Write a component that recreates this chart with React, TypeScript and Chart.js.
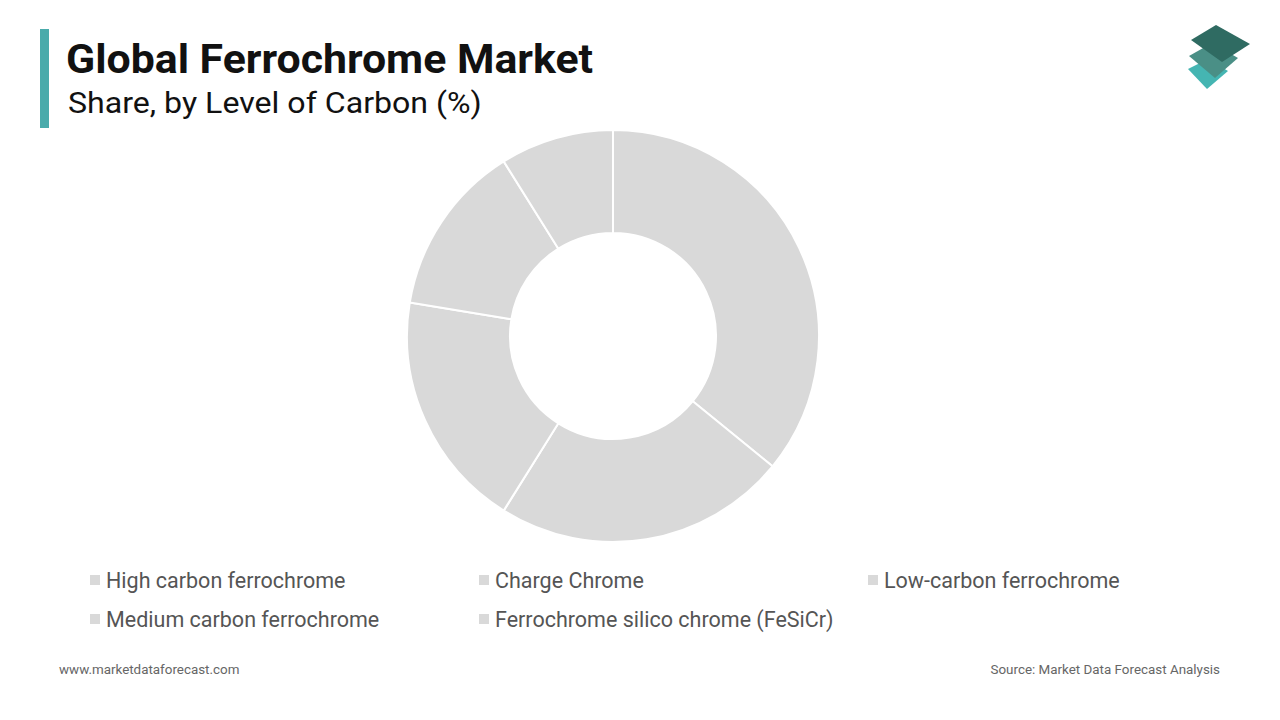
import React, { useEffect, useRef } from "react";
import { Chart, registerables } from "chart.js";

Chart.register(...registerables);

const categories = [
  "High carbon ferrochrome",
  "Charge Chrome",
  "Low-carbon ferrochrome",
  "Medium carbon ferrochrome",
  "Ferrochrome silico chrome (FeSiCr)",
];
const shares = [35.9, 23.0, 18.7, 13.5, 8.9];
const sliceColor = "#d9d9d9";

const FONT = "Roboto, 'Noto Sans', sans-serif";

export default function App() {
  const ref = useRef<HTMLCanvasElement | null>(null);

  useEffect(() => {
    if (!ref.current) return;
    const chart = new Chart(ref.current, {
      type: "doughnut",
      data: {
        labels: categories,
        datasets: [
          {
            data: shares,
            backgroundColor: categories.map(() => sliceColor),
            borderColor: "#ffffff",
            borderWidth: 2,
            hoverOffset: 0,
          },
        ],
      },
      options: {
        responsive: false,
        animation: false,
        maintainAspectRatio: false,
        cutout: "50%",
        radius: 206,
        layout: { padding: 0 },
        plugins: {
          legend: { display: false },
          tooltip: { enabled: false },
        },
      },
    });
    return () => chart.destroy();
  }, []);

  const rows = [categories.slice(0, 3), categories.slice(3)];

  return (
    <div
      style={{
        position: "absolute",
        left: 0,
        top: 0,
        width: 1280,
        height: 720,
        background: "#ffffff",
        fontFamily: FONT,
        overflow: "hidden",
      }}
    >
      <div style={{ position: "absolute", left: 40, top: 29, width: 9, height: 99, background: "#4aabab" }} />
      <div
        style={{
          position: "absolute",
          left: 66,
          top: 36,
          fontSize: 40,
          fontWeight: 700,
          color: "#111",
          lineHeight: "48px",
          whiteSpace: "nowrap",
          transform: "scaleX(1.07)",
          transformOrigin: "left center",
        }}
      >
        Global Ferrochrome Market
      </div>
      <div
        style={{
          position: "absolute",
          left: 68,
          top: 85,
          fontSize: 29,
          color: "#111",
          lineHeight: "36px",
          whiteSpace: "nowrap",
          transform: "scaleX(1.107)",
          transformOrigin: "left center",
        }}
      >
        Share, by Level of Carbon (%)
      </div>

      <svg style={{ position: "absolute", left: 1180, top: 18 }} width={80} height={80} viewBox="0 0 80 80">
        <polygon points="8,51 28,41 48,53 27,71" fill="#45b5b2" />
        <polygon points="9,38 32,25 58,40 35,60" fill="#4a8f86" />
        <polygon points="11,22 36,7 70,26 42,44" fill="#2f6b62" />
      </svg>

      <canvas
        ref={ref}
        width={420}
        height={420}
        style={{ position: "absolute", left: 403, top: 126, width: 420, height: 420 }}
      />

      {rows.map((row, ri) => (
        <div key={ri}>
          {row.map((label, ci) => (
            <div
              key={label}
              style={{
                position: "absolute",
                left: 90 + ci * 389,
                top: 567 + ri * 39,
                height: 26,
                display: "flex",
                alignItems: "center",
                whiteSpace: "nowrap",
              }}
            >
              <span style={{ display: "inline-block", width: 10, height: 10, background: sliceColor, marginRight: 6 }} />
              <span style={{ fontSize: 21.5, color: "#555" }}>{label}</span>
            </div>
          ))}
        </div>
      ))}

      <div style={{ position: "absolute", left: 59, top: 662, fontSize: 13.4, color: "#666", whiteSpace: "nowrap" }}>
        www.marketdataforecast.com
      </div>
      <div
        style={{
          position: "absolute",
          right: 60,
          top: 662,
          fontSize: 13.4,
          color: "#666",
          whiteSpace: "nowrap",
        }}
      >
        Source: Market Data Forecast Analysis
      </div>
    </div>
  );
}
